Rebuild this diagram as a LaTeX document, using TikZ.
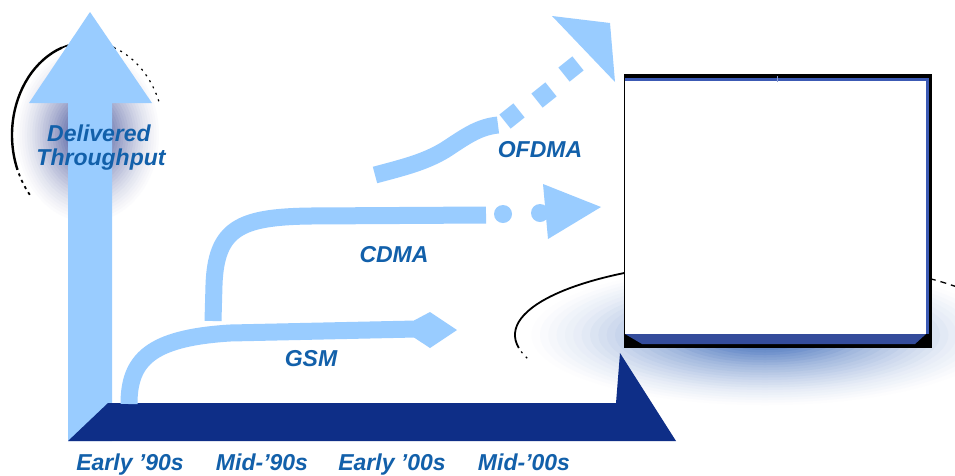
\documentclass[tikz,border=0pt]{standalone}
\usepackage{fontspec}
\setmainfont{Liberation Sans}
\definecolor{lb}{RGB}{153,204,255}
\definecolor{navy}{RGB}{14,46,135}
\definecolor{txt}{RGB}{18,96,170}
\definecolor{glowL}{RGB}{45,60,140}
\definecolor{glowR}{RGB}{45,95,180}
\definecolor{frameblue}{RGB}{60,90,180}
\definecolor{framedark}{RGB}{52,76,155}
\begin{document}
\begin{tikzpicture}[x=1pt,y=-1pt,
  lbl/.style={text=txt,font=\fontsize{23}{24}\selectfont\bfseries\itshape,inner sep=0pt,anchor=base},
  band/.style={draw=lb,line width=17pt},
  dashsq/.style={draw=lb,line width=18pt},
  fringe/.style={draw=black,line width=1.8pt}]
\useasboundingbox[fill=white] (0,0) rectangle (955,475);

% left glow
\foreach \i in {0,...,29}{
  \pgfmathsetmacro\f{1-\i/30}
  \pgfmathtruncatemacro\p{100*(\i/29)^1.4}
  \fill[glowL!\p!white] (88,135) ellipse [x radius=76*\f, y radius=93*\f];
}
% right glow
\foreach \i in {0,...,29}{
  \pgfmathsetmacro\f{1-\i/30}
  \pgfmathtruncatemacro\p{100*(\i/29)^1.5}
  \fill[glowR!\p!white] (765,335) ellipse [x radius=250*\f, y radius=75*\f];
}
% fringes
\draw[fringe,line width=2.4pt] (88,135) ++(158:76 and 93) arc[start angle=158,end angle=250,x radius=76,y radius=93];
\draw[fringe,line width=1.6pt] (88,135) ++(250:76 and 93) arc[start angle=250,end angle=290,x radius=76,y radius=93];
\draw[fringe,dash pattern=on 3pt off 4pt] (88,135) ++(140:76 and 93) arc[start angle=140,end angle=158,x radius=76,y radius=93];
\draw[fringe,line width=1.2pt,dash pattern=on 2pt off 5pt] (88,135) ++(290:76 and 93) arc[start angle=290,end angle=340,x radius=76,y radius=93];
\draw[fringe] (765,335) ++(170:250 and 75) arc[start angle=170,end angle=305,x radius=250,y radius=75];
\draw[fringe,line width=1.2pt,dash pattern=on 2pt off 5pt] (765,335) ++(162:250 and 75) arc[start angle=162,end angle=170,x radius=250,y radius=75];
\draw[fringe,line width=1.3pt,dash pattern=on 6pt off 5pt] (765,335) ++(305:250 and 75) arc[start angle=305,end angle=332,x radius=250,y radius=75];

% vertical throughput arrow
\fill[lb] (68,441) -- (68,103) -- (29,103) -- (90,12) -- (152,103) -- (112,103) -- (112,441) -- cycle;

% base
\fill[navy] (68,441) -- (108,403) -- (616,403) -- (620,353) -- (676,441) -- cycle;

% GSM
\draw[band] (129,404) .. controls (129,360) and (150,338) .. (230,333) -- (416,329);
\fill[lb] (414,320.5) -- (430,312) -- (457,330) -- (430,348) -- (414,337.5) -- cycle;

% CDMA
\draw[band] (213,321) -- (214,285) .. controls (216,228) and (240,217) .. (310,216) -- (486,215);
\fill[lb] (503,214) circle[radius=9];
\fill[lb] (540,213) circle[radius=9];
\fill[lb] (543,184) -- (601,207) -- (548,239) -- cycle;

% OFDMA
\draw[band] (375,175) .. controls (405,167) and (425,162) .. (445,150) .. controls (465,137) and (478,127) .. (498,125);
\draw[dashsq] (505,121.6) -- (519,110.4);
\draw[dashsq] (537,100.6) -- (551,89.4);
\draw[dashsq] (564,74.6) -- (578,63.4);
\fill[lb] (552,16) -- (610,23) -- (615,82) -- cycle;

% right box
\fill[black] (624,74) rectangle (932,348);
\fill[frameblue] (625,78) rectangle (929,81);
\fill[frameblue] (926,78) rectangle (929,334);
\fill[white] (625,81) rectangle (926,334);
\fill[framedark] (625,334) -- (926,334) -- (915,344) -- (642,344) -- cycle;
\draw[frameblue!60!white,line width=0.8pt] (777,76) -- (777,82);

% labels
\node[lbl] (del) at (99,141) {Delivered};
\node[lbl] (thr) at (101,165) {Throughput};
\node[lbl] (gsm) at (311,366) {GSM};
\node[lbl] (cdma) at (394,262) {CDMA};
\node[lbl] (ofdma) at (540,157) {OFDMA};
\node[lbl] (e90) at (130,470) {Early ’90s};
\node[lbl] (m90) at (262,470) {Mid-’90s};
\node[lbl] (e00) at (392,470) {Early ’00s};
\node[lbl] (m00) at (524,470) {Mid-’00s};
\end{tikzpicture}
\end{document}
